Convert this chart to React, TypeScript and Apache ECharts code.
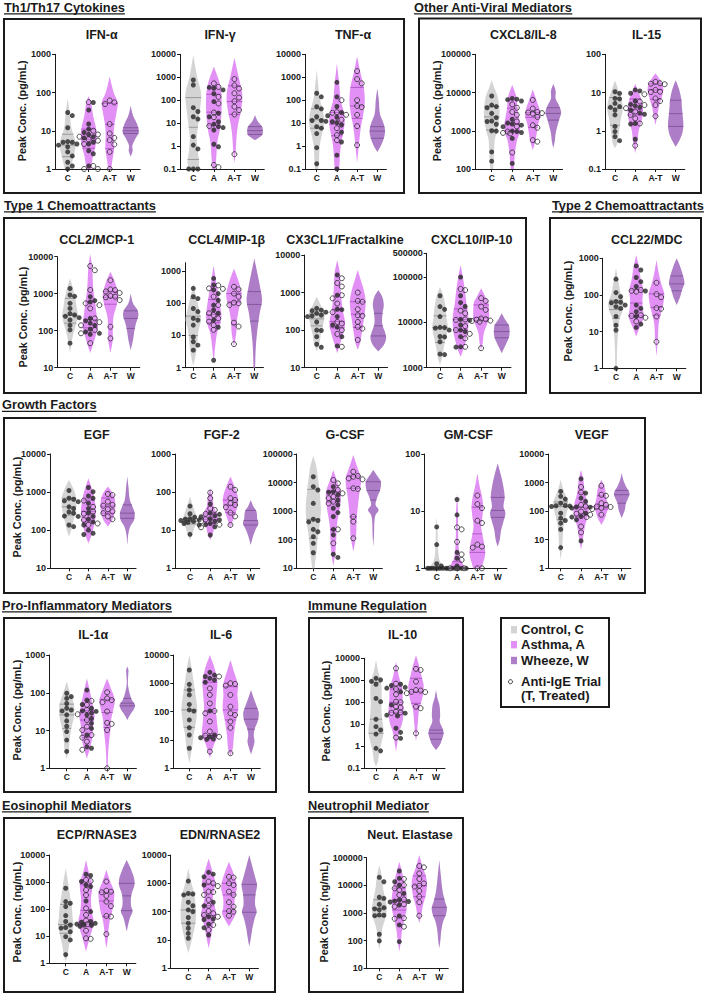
import React, { useEffect, useRef } from 'react';
import * as echarts from 'echarts';

const GROUPS = ['C', 'A', 'A-T', 'W'];

// ---------- DATA ----------
// FILLED: [C, A, A-T] filled dots; OPEN: [C, A, A-T] open circles
// VIOLIN: [C, A, A-T, W] profile nodes [value, relative half-width]
// QUART: [C, A, A-T, W] [q1, median, q3]
const IFNA_TICKS = [1, 10, 100, 1000];
const IFNA_FILLED = [[30, 25, 12, 5.2, 5, 5, 4.5, 4.2, 3.8, 2.8, 2.2, 1.5, 1.2, 1.0], [55, 35, 15, 11, 9, 8, 7, 6.5, 5, 4.5, 3, 2.5, 1.2], []];
const IFNA_OPEN = [[], [56, 10, 8, 7, 6, 5.5, 4.5, 1.2, 1.0, 1.0], [62, 55, 50, 15, 8.5, 6.5, 5.7, 4.4, 2.8, 1.0]];
const IFNA_VIOLIN = [
  [[70, 0], [30, 0.25], [12, 0.45], [6, 0.9], [4, 1], [2, 0.7], [1.2, 0.45], [1, 0.35]],
  [[80, 0], [55, 0.3], [25, 0.55], [12, 0.9], [7, 1], [4, 0.85], [2, 0.5], [1, 0.3]],
  [[260, 0], [100, 0.5], [55, 1], [30, 0.85], [15, 0.6], [8, 0.5], [3.5, 0.55], [1.5, 0.3], [1, 0.2]],
  [[45, 0], [25, 0.3], [14, 0.85], [9, 1], [6, 0.55], [4, 0.2], [3, 0.25], [2.1, 0]],
];
const IFNA_QUART = [[2.1, 4.2, 8.1], [3.5, 6, 11], [3.4, 14.7, 52], [8.5, 10, 12]];

const IFNG_TICKS = [0.1, 1, 10, 100, 1000, 10000];
const IFNG_FILLED = [[760, 460, 47, 32, 19, 15, 2.6, 1.1, 0.75, 0.1, 0.1, 0.1], [360, 330, 280, 190, 87, 27, 19, 11.5, 9, 7, 6.4, 5, 1.2, 0.93], []];
const IFNG_OPEN = [[], [540, 380, 140, 72, 29, 18, 7.5, 0.15, 0.12], [830, 440, 320, 200, 130, 90, 52, 37, 24, 0.44]];
const IFNG_VIOLIN = [
  [[9000, 0], [1000, 0.5], [200, 1], [50, 0.9], [10, 0.65], [2, 0.45], [0.5, 0.6], [0.2, 0.75], [0.1, 0.6]],
  [[2900, 0], [800, 0.6], [300, 0.9], [100, 1], [20, 0.95], [5, 0.75], [1.5, 0.45], [0.3, 0.3], [0.1, 0.2]],
  [[7000, 0], [1000, 0.55], [250, 0.95], [100, 1], [30, 0.8], [8, 0.45], [2, 0.25], [0.5, 0.15], [0.18, 0]],
  [[22, 0], [12, 0.35], [7, 0.9], [4.5, 1], [3, 0.9], [2.2, 0.4], [1.8, 0]],
];
const IFNG_QUART = [[0.26, 6.6, 130], [8, 30, 180], [24, 87, 420], [3.2, 4.7, 7]];

const TNFA_TICKS = [0.1, 1, 10, 100, 1000, 10000];
const TNFA_FILLED = [[200, 140, 52, 42, 19, 13, 13, 12, 7, 6, 3.5, 0.85, 0.17], [600, 140, 53, 29, 21, 18, 11.5, 10.5, 8.3, 4, 1.5, 0.4, 0.1], []];
const TNFA_OPEN = [[], [100, 30, 28, 23, 14, 6, 3, 1.8], [1850, 830, 540, 100, 56, 50, 23, 7.4, 1.1]];
const TNFA_VIOLIN = [
  [[2100, 0], [300, 0.25], [100, 0.45], [30, 0.85], [10, 1], [3.5, 0.7], [1, 0.4], [0.25, 0.3], [0.1, 0.2]],
  [[4000, 0], [500, 0.3], [100, 0.5], [30, 0.9], [10, 1], [3.5, 0.8], [1, 0.5], [0.1, 0.3]],
  [[8000, 0], [1500, 0.45], [400, 0.85], [100, 1], [30, 0.85], [7, 0.5], [1.3, 0.25], [0.18, 0]],
  [[330, 0], [100, 0.2], [25, 0.35], [10, 0.8], [5, 1], [2.5, 0.9], [1, 0.45], [0.55, 0]],
];
const TNFA_QUART = [[6, 14, 42], [2.8, 9, 29], [16, 56, 360], [2.2, 4.5, 7]];

const CXCL8_TICKS = [100, 1000, 10000, 100000];
const CXCL8_FILLED = [[8100, 4700, 4300, 4000, 2850, 2200, 1800, 1750, 1480, 1000, 980, 280, 160], [7000, 6700, 6500, 6000, 2000, 1600, 1500, 1400, 1280, 980, 950, 900, 630, 140], []];
const CXCL8_OPEN = [[], [4900, 4000, 3100, 2600, 1750, 1300, 950, 880, 850, 270], [6400, 3800, 3100, 3000, 2900, 2800, 2300, 1400, 1200, 570, 520]];
const CXCL8_VIOLIN = [
  [[21000, 0], [13000, 0.35], [8000, 0.75], [3500, 1], [1900, 0.95], [1000, 0.7], [580, 0.4], [250, 0.3], [100, 0.2]],
  [[16000, 0], [8000, 0.5], [3500, 0.7], [1500, 1], [900, 0.95], [550, 0.6], [250, 0.35], [100, 0.2]],
  [[12000, 0], [6500, 0.45], [3500, 0.9], [2500, 1], [1500, 0.7], [850, 0.5], [550, 0.35], [310, 0]],
  [[17000, 0], [11000, 0.3], [7000, 0.3], [4500, 0.75], [3000, 1], [1800, 0.7], [850, 0.3], [550, 0.2], [350, 0]],
];
const CXCL8_QUART = [[1050, 2300, 4300], [980, 1500, 3900], [1230, 2250, 3000], [1900, 2850, 4000]];

const IL15_TICKS = [0.1, 1, 10, 100];
const IL15_FILLED = [[10.5, 9.5, 7, 6.8, 5.2, 4.3, 4.1, 3.5, 2.6, 1.3, 0.95, 0.7, 0.55], [11.7, 11, 9.6, 6, 4.9, 4.5, 4.1, 3.5, 2.9, 2.7, 1.55, 1.5, 0.6], []];
const IL15_OPEN = [[], [9, 5.8, 4.7, 3.9, 3.2, 2.6, 2.1, 1.55, 0.41], [19, 17.5, 17, 16.5, 11.7, 10.5, 10.3, 7, 6, 4.7, 2.4]];
const IL15_VIOLIN = [
  [[21, 0], [12, 0.4], [6, 0.9], [3.5, 1], [2, 0.75], [0.85, 0.5], [0.47, 0.3], [0.35, 0]],
  [[17, 0], [10, 0.45], [6.3, 0.8], [3.5, 1], [1.9, 0.85], [1.0, 0.45], [0.55, 0.3], [0.26, 0]],
  [[32, 0], [20, 0.7], [14, 1], [9.5, 0.95], [6.3, 0.7], [4.3, 0.45], [2.9, 0.3], [1.4, 0]],
  [[21, 0], [12, 0.45], [6.3, 0.75], [4.3, 0.8], [2.6, 0.9], [1.4, 1], [0.85, 0.85], [0.57, 0.5], [0.38, 0]],
];
const IL15_QUART = [[1.4, 3.9, 7.4], [2.6, 3.5, 6.8], [6.6, 11.7, 17], [1.3, 2.8, 6.3]];

const CCL2_TICKS = [10, 100, 1000, 10000];
const CCL2_FILLED = [[1380, 920, 850, 550, 400, 290, 265, 245, 225, 195, 140, 105, 46], [830, 650, 600, 215, 185, 160, 140, 110, 93, 85, 80], []];
const CCL2_OPEN = [[], [5600, 4300, 1260, 550, 490, 400, 215, 170, 140, 105, 85, 46], [2300, 1300, 1250, 1150, 1050, 870, 830, 800, 670, 128, 62]];
const CCL2_VIOLIN = [
  [[2600, 0], [1500, 0.35], [800, 0.65], [450, 0.85], [250, 1], [130, 0.7], [70, 0.35], [25, 0]],
  [[12000, 0], [5000, 0.25], [1300, 0.4], [550, 0.65], [300, 0.8], [130, 1], [85, 0.8], [45, 0.4], [25, 0]],
  [[3900, 0], [2300, 0.5], [1250, 0.9], [830, 1], [490, 0.8], [240, 0.4], [105, 0.3], [56, 0.3], [25, 0]],
  [[1000, 0], [550, 0.3], [370, 0.85], [260, 1], [160, 0.7], [105, 0.5], [56, 0.3], [30, 0]],
];
const CCL2_QUART = [[160, 260, 750], [120, 200, 600], [520, 800, 1150], [115, 215, 345]];

const CCL4_TICKS = [1, 10, 100, 1000, 5000];
const CCL4_FILLED = [[290, 160, 140, 69, 55, 34, 30, 21, 9, 6.4, 5, 3.5], [590, 370, 260, 200, 125, 88, 62, 49, 30, 18, 1.7], []];
const CCL4_OPEN = [[], [360, 290, 280, 160, 88, 49, 43, 34, 27, 21, 15], [325, 270, 200, 160, 105, 100, 88, 25, 19, 5.4]];
const CCL4_VIOLIN = [
  [[400, 0], [130, 0.45], [50, 0.85], [30, 1], [15, 0.7], [5.6, 0.5], [2.8, 0.35], [1.1, 0]],
  [[1500, 0], [500, 0.3], [200, 0.6], [80, 0.85], [38, 1], [23, 0.85], [12, 0.45], [4.5, 0.2], [1.4, 0]],
  [[1200, 0], [520, 0.55], [260, 0.9], [160, 1], [78, 0.7], [30, 0.4], [12, 0.3], [4.5, 0]],
  [[2450, 0], [850, 0.4], [320, 0.75], [125, 1], [49, 0.7], [15, 0.4], [4.5, 0.2], [1, 0.1]],
];
const CCL4_QUART = [[10, 40, 140], [25, 45, 130], [22, 110, 200], [28, 92, 230]];

const CX3CL1_TICKS = [10, 100, 1000, 10000];
const CX3CL1_FILLED = [[380, 340, 330, 300, 280, 250, 240, 230, 165, 100, 98, 67, 42, 35], [2950, 850, 360, 350, 230, 137, 120, 67, 38], []];
const CX3CL1_OPEN = [[], [2400, 1800, 1450, 850, 700, 510, 300, 165, 150, 100, 79, 36], [1000, 600, 570, 360, 250, 240, 165, 123, 110, 55]];
const CX3CL1_VIOLIN = [
  [[780, 0], [470, 0.5], [310, 0.9], [230, 1], [135, 0.8], [80, 0.55], [45, 0.35], [27, 0]],
  [[7400, 0], [3200, 0.35], [1200, 0.45], [630, 0.55], [350, 0.7], [150, 1], [80, 0.75], [45, 0.4], [24, 0]],
  [[4000, 0], [2100, 0.4], [1200, 0.75], [630, 1], [350, 0.95], [150, 0.7], [80, 0.5], [45, 0.3], [30, 0]],
  [[1170, 0], [780, 0.5], [470, 0.7], [280, 0.55], [150, 0.5], [82, 0.9], [60, 1], [40, 0.7], [27, 0]],
];
const CX3CL1_QUART = [[130, 200, 270], [115, 170, 360], [118, 265, 570], [70, 130, 280]];

const CXCL10_TICKS = [1000, 10000, 100000, 500000];
const CXCL10_FILLED = [[39000, 22500, 19500, 13500, 7800, 7700, 7500, 6800, 4900, 4800, 3750, 2000, 1950], [101000, 39000, 27500, 22700, 11700, 11200, 8800, 6800, 6300, 4850, 2900, 2850], []];
const CXCL10_OPEN = [[], [55000, 52000, 18300, 16000, 11700, 11400, 8300, 6800, 5600, 4450, 2900], [34500, 30000, 22500, 19000, 12300, 11800, 11500, 11000, 10800, 10400, 2700]];
const CXCL10_VIOLIN = [
  [[62000, 0], [37000, 0.45], [22000, 0.7], [12000, 0.85], [8000, 1], [4900, 0.8], [2900, 0.5], [1750, 0.3], [1150, 0]],
  [[187000, 0], [100000, 0.3], [52000, 0.55], [26000, 0.75], [13500, 1], [6800, 0.95], [4100, 0.7], [2500, 0.35], [1750, 0]],
  [[57000, 0], [37000, 0.55], [29000, 0.9], [19000, 1], [12300, 1], [9600, 0.8], [5800, 0.35], [3500, 0.2], [2450, 0]],
  [[16000, 0], [11500, 0.45], [8800, 0.9], [6800, 1], [4900, 0.95], [3450, 0.6], [2700, 0.3], [2080, 0]],
];
const CXCL10_QUART = [[3600, 7700, 14000], [6800, 11700, 20000], [11000, 12800, 24500], [4600, 6300, 8800]];

const CCL22_TICKS = [1, 10, 100, 1000];
const CCL22_FILLED = [[270, 116, 90, 66, 63, 61, 53, 48, 43, 26, 15, 11, 1], [620, 480, 300, 230, 170, 128, 53, 43, 35, 26, 16, 13], []];
const CCL22_OPEN = [[], [137, 130, 123, 28, 27, 24, 19], [215, 105, 87, 44, 42, 26, 5.3]];
const CCL22_VIOLIN = [
  [[530, 0], [250, 0.3], [110, 0.6], [60, 1], [39, 0.9], [21, 0.45], [11, 0.3], [6, 0.2], [2.5, 0.12], [1, 0.1]],
  [[1230, 0], [590, 0.35], [260, 0.6], [140, 0.9], [73, 0.8], [43, 0.85], [26, 1], [17, 0.7], [11, 0.3], [7.3, 0]],
  [[900, 0], [390, 0.3], [210, 0.6], [110, 1], [60, 0.9], [32, 0.6], [17, 0.3], [7.3, 0.2], [3.9, 0.1], [2.1, 0]],
  [[1000, 0], [720, 0.3], [480, 0.6], [320, 0.85], [210, 1], [137, 0.7], [90, 0.45], [53, 0]],
];
const CCL22_QUART = [[23, 40, 72], [27, 60, 137], [28, 46, 107], [130, 200, 330]];

const EGF_TICKS = [10, 100, 1000, 10000];
const EGF_FILLED = [[1100, 690, 650, 590, 560, 410, 370, 300, 280, 235, 230, 137, 124], [1320, 1020, 790, 690, 510, 370, 280, 230, 195, 165, 137, 100, 83, 77], []];
const EGF_OPEN = [[], [600, 410, 310, 270, 185, 150, 138], [890, 840, 560, 460, 440, 355, 310, 280, 230, 195]];
const EGF_VIOLIN = [
  [[2100, 0], [1400, 0.45], [830, 0.9], [510, 1], [280, 0.85], [150, 0.5], [100, 0.3], [68, 0]],
  [[2300, 0], [1250, 0.45], [690, 0.8], [340, 1], [185, 0.9], [100, 0.6], [68, 0.35], [45, 0]],
  [[1400, 0], [930, 0.65], [620, 0.95], [410, 1], [280, 0.9], [185, 0.6], [124, 0]],
  [[2600, 0], [1400, 0.15], [620, 0.35], [420, 0.7], [280, 1], [185, 0.9], [124, 0.4], [83, 0.15], [41, 0]],
];
const EGF_QUART = [[250, 410, 690], [165, 310, 620], [280, 430, 700], [205, 280, 460]];

const FGF2_TICKS = [1, 10, 100, 1000];
const FGF2_FILLED = [[43, 27, 22, 20, 19.5, 18.7, 18, 17, 16, 15, 13.7, 7.8], [49, 28, 26, 24, 22.5, 20, 18.5, 17, 15, 14, 12.3, 7.5], []];
const FGF2_OPEN = [[], [97, 69, 37, 34, 27, 19.3, 17, 14, 11.9], [138, 114, 69, 62, 51, 46, 40, 29, 23, 13.7]];
const FGF2_VIOLIN = [
  [[76, 0], [42, 0.4], [23, 0.85], [17, 1], [12, 0.6], [8.3, 0.35], [5.5, 0]],
  [[125, 0], [76, 0.3], [42, 0.45], [28, 0.85], [18.5, 1], [12.3, 0.55], [8.3, 0.35], [5.5, 0]],
  [[255, 0], [155, 0.45], [93, 0.85], [62, 1], [42, 0.9], [28, 0.65], [18.5, 0.35], [11, 0]],
  [[62, 0], [42, 0.35], [31, 0.75], [20, 0.85], [15, 1], [10, 0.6], [6.8, 0.3], [4.1, 0]],
];
const FGF2_QUART = [[14.5, 17, 20], [15, 19.3, 28], [29, 46, 62], [13.7, 18, 33]];

const GCSF_TICKS = [10, 100, 1000, 10000, 100000];
const GCSF_FILLED = [[16000, 7200, 5500, 1870, 520, 470, 420, 230, 190, 128, 75, 35], [7200, 4800, 4600, 3700, 2450, 1650, 1260, 890, 650, 230, 148, 31, 24], []];
const GCSF_OPEN = [[], [12300, 9400, 5500, 4200, 3200, 2850, 2150, 1870, 230, 75], [24000, 17000, 16000, 14000, 13000, 6300, 6000, 640, 430, 112]];
const GCSF_VIOLIN = [
  [[85000, 0], [36000, 0.4], [12000, 0.65], [4200, 0.85], [1100, 1], [370, 0.85], [130, 0.6], [44, 0.45], [17, 0.25], [10, 0.15]],
  [[27500, 0], [12000, 0.45], [5500, 0.9], [3200, 1], [1100, 0.8], [370, 0.5], [130, 0.4], [44, 0.3], [11.5, 0]],
  [[93000, 0], [36000, 0.5], [16000, 0.95], [9400, 1], [4200, 0.8], [1450, 0.6], [490, 0.45], [130, 0.35], [38, 0]],
  [[27500, 0], [16000, 0.6], [10700, 1], [5500, 0.9], [3200, 0.55], [1650, 0.3], [1100, 0.7], [740, 0.3], [430, 0.15], [165, 0.1], [57, 0]],
];
const GCSF_QUART = [[112, 520, 5800], [230, 2100, 4800], [640, 6300, 17000], [2450, 5300, 10700]];

const GMCSF_TICKS = [1, 10, 100];
const GMCSF_FILLED = [[5.3, 2.6, 1.2, 1.1, 1, 1, 1, 1, 1, 1, 1, 1], [16, 8.6, 1.9, 1.5, 1.1, 1, 1, 1, 1, 1, 1], []];
const GMCSF_OPEN = [[], [5.2, 4.8, 2.9, 1.75, 1.4, 1, 1, 1], [18.8, 13.3, 11.3, 6.8, 6.2, 2.6, 2.4, 2.3, 1, 1]];
const GMCSF_VIOLIN = [
  [[8, 0], [5, 0.1], [2.5, 0.15], [1.5, 0.3], [1.2, 0.6], [1, 1]],
  [[21, 0], [10, 0.12], [4, 0.15], [2, 0.25], [1.5, 0.4], [1.2, 0.75], [1, 1]],
  [[46, 0], [27, 0.3], [18, 0.6], [12, 0.75], [8, 0.65], [5.4, 0.5], [3.6, 0.7], [2.4, 0.95], [1.7, 1], [1.2, 0.7], [1, 0.55]],
  [[69, 0], [46, 0.35], [31, 0.65], [18, 0.9], [12, 0.75], [9.2, 1], [7, 0.8], [4.7, 0.45], [3.1, 0.25], [2.4, 0]],
];
const GMCSF_QUART = [[1, 1, 1], [1, 1, 1.3], [1.9, 4, 11.7], [7.8, 10.3, 17.4]];

const VEGF_TICKS = [1, 10, 100, 1000, 10000];
const VEGF_FILLED = [[490, 330, 265, 190, 158, 155, 150, 145, 85, 57, 47, 38, 23, 5.3], [1350, 430, 285, 220, 140, 138, 128, 85, 65, 62, 50, 9.1], []];
const VEGF_OPEN = [[], [700, 450, 166, 145, 97, 81, 75, 62, 29, 18], [780, 375, 345, 190, 166, 145, 140, 128, 118, 75]];
const VEGF_VIOLIN = [
  [[1260, 0], [560, 0.35], [250, 0.85], [145, 1], [85, 0.75], [38, 0.45], [17, 0.3], [5.8, 0.2], [2, 0]],
  [[2800, 0], [1260, 0.3], [430, 0.5], [190, 0.85], [110, 1], [65, 0.85], [29, 0.5], [13, 0.3], [4.4, 0]],
  [[1260, 0], [640, 0.45], [330, 0.6], [190, 0.8], [145, 1], [98, 0.75], [56, 0.45], [33, 0]],
  [[2150, 0], [1260, 0.2], [740, 0.55], [430, 1], [290, 0.85], [190, 0.55], [110, 0.4], [57, 0]],
];
const VEGF_QUART = [[50, 145, 210], [69, 138, 430], [118, 150, 345], [190, 375, 530]];

const IL1A_TICKS = [1, 10, 100, 1000];
const IL1A_FILLED = [[97, 79, 71, 52, 39, 35, 33, 26, 18, 13, 9.4, 5.6, 2.8], [118, 64, 49, 39, 33, 32, 29, 26, 21, 15.5, 11.4, 7.6, 3.7, 3.4], []];
const IL1A_OPEN = [[], [61, 48, 35, 27, 19, 12.7, 10.3, 7.6, 6.5, 5.1, 3.1], [103, 71, 64, 56, 32, 16, 15, 10.3, 1.0]];
const IL1A_VIOLIN = [
  [[200, 0], [105, 0.4], [58, 0.85], [39, 1], [21, 0.9], [11.5, 0.6], [6.2, 0.4], [3.4, 0.3], [1.8, 0]],
  [[240, 0], [107, 0.4], [48, 0.75], [26, 1], [14, 0.8], [7.6, 0.75], [4.1, 0.5], [1.8, 0]],
  [[240, 0], [130, 0.5], [79, 0.9], [58, 1], [35, 0.8], [21, 0.55], [11.4, 0.45], [6.2, 0.3], [2.8, 0.15], [1, 0.08]],
  [[500, 0], [400, 0.15], [300, 0.12], [170, 0.08], [107, 0.25], [64, 0.6], [48, 1], [35, 0.8], [26, 0.35], [19, 0]],
];
const IL1A_QUART = [[11.4, 26, 50], [6.5, 19, 34], [12, 30, 67], [45, 53, 71]];

const IL6_TICKS = [1, 10, 100, 1000, 10000];
const IL6_FILLED = [[2950, 920, 580, 390, 180, 115, 105, 51, 27, 15, 5.1], [2450, 1960, 1740, 1500, 1300, 1090, 106, 15, 13, 12, 10.8, 10.5], []];
const IL6_OPEN = [[], [1740, 660, 390, 195, 106, 87, 45, 20, 14.2, 13, 3.9], [1000, 950, 830, 390, 150, 87, 76, 45, 27, 3.4]];
const IL6_VIOLIN = [
  [[10000, 0], [3400, 0.3], [1150, 0.55], [390, 0.8], [130, 1], [45, 0.85], [15, 0.55], [5, 0.35], [1.5, 0]],
  [[10000, 0], [3400, 0.6], [1150, 0.95], [390, 0.85], [130, 0.75], [45, 0.9], [15, 1], [6.6, 0.5], [2.3, 0]],
  [[6600, 0], [2600, 0.45], [870, 0.95], [390, 0.9], [130, 1], [45, 0.7], [15, 0.45], [5, 0.3], [2.6, 0]],
  [[580, 0], [300, 0.35], [150, 0.75], [87, 1], [45, 0.85], [26, 0.5], [15, 0.35], [8.7, 0.45], [5.1, 0.25], [3.1, 0]],
];
const IL6_QUART = [[28, 115, 580], [14.2, 106, 1090], [51, 115, 760], [24, 54, 130]];

const IL10_TICKS = [0.1, 1, 10, 100, 1000, 10000];
const IL10_FILLED = [[1230, 1050, 900, 660, 150, 107, 17, 7.8, 5.5, 3.6, 0.81, 0.62], [660, 580, 480, 440, 300, 76, 32, 26, 24, 6.6, 4.3, 2.3], []];
const IL10_OPEN = [[], [3500, 700, 400, 230, 107, 100, 63, 57, 38, 35, 33, 2.5], [3300, 2950, 870, 360, 340, 300, 290, 260, 63, 54, 3.9]];
const IL10_VIOLIN = [
  [[8300, 0], [2500, 0.3], [870, 0.65], [300, 0.75], [76, 0.7], [19, 0.8], [4.7, 1], [1.6, 0.75], [0.57, 0.45], [0.2, 0.25], [0.12, 0]],
  [[7000, 0], [1700, 0.35], [440, 0.8], [107, 0.9], [38, 1], [13, 0.85], [4.7, 0.45], [1.6, 0.2], [0.57, 0]],
  [[14000, 0], [3500, 0.5], [1230, 0.8], [620, 1], [260, 0.95], [107, 0.7], [45, 0.4], [13, 0.25], [4.7, 0.15], [1.6, 0]],
  [[360, 0], [150, 0.2], [76, 0.45], [26, 0.55], [13, 0.5], [6.6, 0.85], [3.9, 1], [1.9, 0.75], [1.15, 0.5], [0.68, 0]],
];
const IL10_QUART = [[3.9, 17, 810], [35, 100, 400], [90, 300, 1230], [2.1, 3.9, 5.5]];

const ECP_TICKS = [1, 10, 100, 1000, 10000];
const ECP_FILLED = [[590, 190, 165, 124, 58, 35, 26, 21, 20, 14.7, 9.6, 7.3, 2.1], [1950, 1750, 1050, 780, 680, 200, 81, 35, 33, 30, 28, 26, 25, 23], []];
const ECP_OPEN = [[], [1200, 1100, 510, 330, 107, 61, 38, 28, 16, 8.4, 8], [1050, 480, 440, 420, 310, 190, 130, 56, 53, 12]];
const ECP_VIOLIN = [
  [[3200, 0], [1050, 0.3], [330, 0.55], [107, 0.8], [46, 0.9], [26, 1], [11, 0.75], [4.7, 0.45], [2, 0.25], [1.15, 0]],
  [[6600, 0], [2400, 0.35], [1050, 0.75], [590, 0.8], [250, 0.65], [81, 0.75], [35, 1], [20, 0.85], [8.4, 0.45], [2.7, 0]],
  [[2800, 0], [1050, 0.5], [440, 1], [190, 0.95], [81, 0.75], [46, 0.5], [20, 0.3], [8.4, 0.2], [3.6, 0]],
  [[6600, 0], [3200, 0.5], [1400, 0.95], [780, 1], [330, 0.6], [140, 0.55], [81, 0.75], [46, 0.4], [15, 0]],
];
const ECP_QUART = [[12.8, 27, 150], [28, 90, 800], [53, 200, 420], [88, 310, 900]];

const EDN_TICKS = [1, 10, 100, 1000, 10000];
const EDN_FILLED = [[1200, 440, 420, 390, 215, 162, 115, 100, 62, 39, 26, 17, 11.5], [2450, 2100, 1700, 870, 215, 160, 66, 55, 52, 36, 27, 15], []];
const EDN_OPEN = [[], [1150, 1000, 800, 510, 490, 390, 260, 162, 105, 87, 76, 66, 34, 22.5], [1700, 1600, 1000, 870, 510, 390, 215, 150, 105, 100, 72]];
const EDN_VIOLIN = [
  [[3400, 0], [1150, 0.35], [510, 0.7], [225, 0.9], [100, 1], [45, 0.95], [19.5, 0.7], [8.7, 0.4], [3.4, 0]],
  [[7600, 0], [2600, 0.5], [1150, 0.85], [660, 0.75], [300, 0.55], [130, 0.85], [76, 1], [34, 0.6], [15, 0.35], [5.1, 0]],
  [[5800, 0], [2600, 0.5], [1150, 0.9], [660, 1], [300, 0.75], [130, 0.75], [87, 0.9], [58, 0.6], [30, 0]],
  [[10000, 0], [3400, 0.45], [1500, 0.8], [870, 1], [390, 0.8], [175, 0.75], [100, 0.95], [58, 0.7], [26, 0.4], [11.5, 0.2], [5.8, 0]],
];
const EDN_QUART = [[39, 115, 390], [70, 162, 920], [105, 390, 1000], [95, 390, 920]];

const NE_TICKS = [10, 100, 1000, 10000, 100000];
const NE_FILLED = [[19500, 13500, 3700, 3400, 2050, 1550, 1400, 1300, 850, 830, 800, 170, 98], [33000, 18000, 13500, 10200, 5100, 2950, 2700, 2600, 2500, 1950, 780, 370, 92], []];
const NE_OPEN = [[], [17000, 10200, 7800, 6800, 4500, 3100, 2050, 1700, 650, 620, 320], [50000, 45000, 27000, 17000, 11700, 9700, 9000, 6300, 3900, 2450, 800]];
const NE_VIOLIN = [
  [[54000, 0], [23000, 0.3], [7800, 0.5], [2600, 0.85], [1500, 1], [650, 0.8], [280, 0.4], [120, 0.25], [46, 0]],
  [[72000, 0], [31000, 0.35], [13500, 0.65], [5900, 0.9], [2600, 1], [1120, 0.9], [490, 0.6], [215, 0.35], [92, 0.2], [40, 0]],
  [[125000, 0], [41000, 0.5], [20000, 0.9], [10200, 1], [4500, 0.85], [1950, 0.5], [850, 0.25], [430, 0]],
  [[83000, 0], [23000, 0.2], [5900, 0.45], [2600, 0.75], [1500, 1], [850, 0.85], [490, 0.5], [215, 0.25], [105, 0.15], [53, 0]],
];
const NE_QUART = [[740, 1500, 3000], [1280, 2950, 7800], [3900, 9700, 22000], [800, 1600, 3200]];

const PANELS = [
  { title: 'IFN-α', ticks: IFNA_TICKS, filled: IFNA_FILLED, open: IFNA_OPEN, violin: IFNA_VIOLIN, quart: IFNA_QUART },
  { title: 'IFN-γ', ticks: IFNG_TICKS, filled: IFNG_FILLED, open: IFNG_OPEN, violin: IFNG_VIOLIN, quart: IFNG_QUART },
  { title: 'TNF-α', ticks: TNFA_TICKS, filled: TNFA_FILLED, open: TNFA_OPEN, violin: TNFA_VIOLIN, quart: TNFA_QUART },
  { title: 'CXCL8/IL-8', ticks: CXCL8_TICKS, filled: CXCL8_FILLED, open: CXCL8_OPEN, violin: CXCL8_VIOLIN, quart: CXCL8_QUART },
  { title: 'IL-15', ticks: IL15_TICKS, filled: IL15_FILLED, open: IL15_OPEN, violin: IL15_VIOLIN, quart: IL15_QUART },
  { title: 'CCL2/MCP-1', ticks: CCL2_TICKS, filled: CCL2_FILLED, open: CCL2_OPEN, violin: CCL2_VIOLIN, quart: CCL2_QUART },
  { title: 'CCL4/MIP-1β', ticks: CCL4_TICKS, filled: CCL4_FILLED, open: CCL4_OPEN, violin: CCL4_VIOLIN, quart: CCL4_QUART },
  { title: 'CX3CL1/Fractalkine', ticks: CX3CL1_TICKS, filled: CX3CL1_FILLED, open: CX3CL1_OPEN, violin: CX3CL1_VIOLIN, quart: CX3CL1_QUART },
  { title: 'CXCL10/IP-10', ticks: CXCL10_TICKS, filled: CXCL10_FILLED, open: CXCL10_OPEN, violin: CXCL10_VIOLIN, quart: CXCL10_QUART },
  { title: 'CCL22/MDC', ticks: CCL22_TICKS, filled: CCL22_FILLED, open: CCL22_OPEN, violin: CCL22_VIOLIN, quart: CCL22_QUART },
  { title: 'EGF', ticks: EGF_TICKS, filled: EGF_FILLED, open: EGF_OPEN, violin: EGF_VIOLIN, quart: EGF_QUART },
  { title: 'FGF-2', ticks: FGF2_TICKS, filled: FGF2_FILLED, open: FGF2_OPEN, violin: FGF2_VIOLIN, quart: FGF2_QUART },
  { title: 'G-CSF', ticks: GCSF_TICKS, filled: GCSF_FILLED, open: GCSF_OPEN, violin: GCSF_VIOLIN, quart: GCSF_QUART },
  { title: 'GM-CSF', ticks: GMCSF_TICKS, filled: GMCSF_FILLED, open: GMCSF_OPEN, violin: GMCSF_VIOLIN, quart: GMCSF_QUART },
  { title: 'VEGF', ticks: VEGF_TICKS, filled: VEGF_FILLED, open: VEGF_OPEN, violin: VEGF_VIOLIN, quart: VEGF_QUART },
  { title: 'IL-1α', ticks: IL1A_TICKS, filled: IL1A_FILLED, open: IL1A_OPEN, violin: IL1A_VIOLIN, quart: IL1A_QUART },
  { title: 'IL-6', ticks: IL6_TICKS, filled: IL6_FILLED, open: IL6_OPEN, violin: IL6_VIOLIN, quart: IL6_QUART },
  { title: 'IL-10', ticks: IL10_TICKS, filled: IL10_FILLED, open: IL10_OPEN, violin: IL10_VIOLIN, quart: IL10_QUART },
  { title: 'ECP/RNASE3', ticks: ECP_TICKS, filled: ECP_FILLED, open: ECP_OPEN, violin: ECP_VIOLIN, quart: ECP_QUART },
  { title: 'EDN/RNASE2', ticks: EDN_TICKS, filled: EDN_FILLED, open: EDN_OPEN, violin: EDN_VIOLIN, quart: EDN_QUART },
  { title: 'Neut. Elastase', ticks: NE_TICKS, filled: NE_FILLED, open: NE_OPEN, violin: NE_VIOLIN, quart: NE_QUART },
];

const LEGEND_LABELS = ['Control, C', 'Asthma, A', 'Wheeze, W'];
const LEGEND_TRIAL = ['Anti-IgE Trial', '(T, Treated)'];

// ---------- LAYOUT (pixel positions) ----------
const LAYOUT: any[] = [
  { ax: 55, c0: 67.7, c3: 130.7, top: 54.3, bot: 169, tx: 101.7, ty: 35 },
  { ax: 180, c0: 193.3, c3: 255, top: 54.3, bot: 169, tx: 220, ty: 35 },
  { ax: 305, c0: 316.7, c3: 377.3, top: 54.3, bot: 169, tx: 353, ty: 35 },
  { ax: 475, c0: 491.7, c3: 553.3, top: 54.3, bot: 169, tx: 523.3, ty: 35 },
  { ax: 605, c0: 615, c3: 675.7, top: 54.3, bot: 169, tx: 646.7, ty: 35 },
  { ax: 57.3, c0: 70, c3: 130.7, top: 256.7, bot: 367.7, tx: 96.7, ty: 240 },
  { ax: 185, c0: 193.3, c3: 254.3, top: 262.7, bot: 367.7, tx: 226.7, ty: 240, topLog: 3.26 },
  { ax: 304.3, c0: 316.7, c3: 378.3, top: 255, bot: 367.7, tx: 345, ty: 240 },
  { ax: 426.7, c0: 440, c3: 501.7, top: 253.3, bot: 367.7, tx: 471.7, ty: 240, topLog: 5.53 },
  { ax: 602.7, c0: 616, c3: 676.7, top: 258.3, bot: 368.3, tx: 646.7, ty: 240 },
  { ax: 50, c0: 69, c3: 127.3, top: 454, bot: 568.3, tx: 96.7, ty: 435 },
  { ax: 175, c0: 190, c3: 250.7, top: 454, bot: 568.3, tx: 221.7, ty: 435 },
  { ax: 296.7, c0: 313.3, c3: 373.3, top: 454, bot: 568.3, tx: 345, ty: 435 },
  { ax: 424.3, c0: 436.7, c3: 497.7, top: 454, bot: 568.3, tx: 468.3, ty: 435 },
  { ax: 548.3, c0: 560.7, c3: 621.7, top: 454, bot: 568.3, tx: 591.7, ty: 435 },
  { ax: 49.3, c0: 66.7, c3: 127.3, top: 655, bot: 768.3, tx: 93.3, ty: 635 },
  { ax: 173.3, c0: 189.3, c3: 251, top: 655, bot: 768.3, tx: 221, ty: 635 },
  { ax: 364, c0: 376, c3: 436, top: 658.3, bot: 768.3, tx: 402.7, ty: 635 },
  { ax: 49.3, c0: 65.7, c3: 126.7, top: 855, bot: 963.3, tx: 96.7, ty: 835 },
  { ax: 170.7, c0: 188.3, c3: 249.3, top: 855, bot: 968.3, tx: 220, ty: 835 },
  { ax: 366.7, c0: 379.3, c3: 439.3, top: 857.7, bot: 968.3, tx: 410, ty: 835 },
];

const SECTIONS: any[] = [
  { title: 'Th1/Th17 Cytokines', tx: 4, ty: 7, box: [4, 19, 400, 174], yl: [21.7, 110.8, 'Peak Conc. (pg/mL)'] },
  { title: 'Other Anti-Viral Mediators', tx: 414, ty: 7, box: [419, 18.5, 282, 174.5], yl: [436.7, 110.8, 'Peak Conc. (pg/mL)'] },
  { title: 'Type 1 Chemoattractants', tx: 4, ty: 205, box: [4, 218, 522, 175], yl: [22.5, 317, 'Peak Conc. (pg/mL)'] },
  { title: 'Type 2 Chemoattractants', tx: 552, ty: 205, box: [550, 218, 151, 175], yl: [568.3, 311, 'Peak Conc. (pg/mL)'] },
  { title: 'Growth Factors', tx: 2, ty: 404.5, box: [4, 418, 641, 175], yl: [16.7, 507, 'Peak Conc. (pg/mL)'] },
  { title: 'Pro-Inflammatory Mediators', tx: 2, ty: 605, box: [4, 618, 272, 174], yl: [16.7, 710, 'Peak Conc. (pg/mL)'] },
  { title: 'Immune Regulation', tx: 308, ty: 605, box: [309, 618, 154, 174], yl: [326, 711, 'Peak Conc. (pg/mL)'] },
  { title: 'Eosinophil Mediators', tx: 2, ty: 805, box: [4, 818, 271, 174], yl: [16.7, 912, 'Peak Conc. (ng/mL)'] },
  { title: 'Neutrophil Mediator', tx: 308, ty: 805, box: [309, 818, 154, 174], yl: [324.3, 912, 'Peak Conc. (ng/mL)'] },
];

const FONT = '"Liberation Sans", Arial, Helvetica, sans-serif';
const INK = '#1a1a1a';
const FILLS = ['#d4d4d4', '#e290f5', '#e290f5', '#ad7ec7'];
const QLINE = ['#8a8a8a', '#a64cbd', '#a64cbd', '#7a4e93'];
const HALF = 0.38;
const DOT = 5;
const STEP = 4.6;
const MAXOFF = 10.5;
const SEC_FS = 12.8;

function makeProfile(prof: number[][]) {
  const nodes = prof.map(([v, w]) => [Math.log10(v), w]).sort((a, b) => a[0] - b[0]);
  const n = nodes.length;
  const xs = nodes.map((d) => d[0]);
  const ys = nodes.map((d) => d[1]);
  const m = ys.map((_, i) => {
    if (i === 0) return (ys[1] - ys[0]) / (xs[1] - xs[0]);
    if (i === n - 1) return (ys[n - 1] - ys[n - 2]) / (xs[n - 1] - xs[n - 2]);
    return (ys[i + 1] - ys[i - 1]) / (xs[i + 1] - xs[i - 1]);
  });
  const f = (x: number) => {
    if (x < xs[0] - 1e-9 || x > xs[n - 1] + 1e-9) return 0;
    if (x <= xs[0]) return ys[0];
    if (x >= xs[n - 1]) return ys[n - 1];
    let i = 0;
    while (x > xs[i + 1]) i++;
    const h = xs[i + 1] - xs[i];
    const t = (x - xs[i]) / h;
    const t2 = t * t, t3 = t2 * t;
    const y = (2 * t3 - 3 * t2 + 1) * ys[i] + (t3 - 2 * t2 + t) * h * m[i] + (-2 * t3 + 3 * t2) * ys[i + 1] + (t3 - t2) * h * m[i + 1];
    return Math.max(0, Math.min(1.08, y));
  };
  return { lo: xs[0], hi: xs[n - 1], f };
}

function measure(text: string, font: string) {
  const c = document.createElement('canvas').getContext('2d');
  if (!c) return text.length * 7;
  c.font = font;
  return c.measureText(text).width;
}

function swarm(values: { v: number; open: boolean }[], pxPerLog: number) {
  const items = values.slice().sort((a, b) => b.v - a.v);
  const placed: { off: number; ly: number; open: boolean }[] = [];
  items.forEach((it) => {
    const ly = Math.log10(it.v);
    const minDist = (o: number) => {
      let d = Infinity;
      placed.forEach((q) => {
        const dx = q.off - o;
        const dy = (q.ly - ly) * pxPerLog;
        d = Math.min(d, Math.sqrt(dx * dx + dy * dy));
      });
      return d;
    };
    let chosen: number | null = null;
    for (let k = 0; k < 12; k++) {
      const kk = k === 0 ? 0 : (k % 2 === 1 ? (k + 1) / 2 : -k / 2);
      const o = kk * STEP;
      if (Math.abs(o) > MAXOFF) break;
      if (minDist(o) >= STEP - 0.01) { chosen = o; break; }
    }
    if (chosen === null) {
      let best = 0, bestD = -1;
      for (let o = -MAXOFF; o <= MAXOFF + 1e-6; o += 0.5) {
        const d = minDist(o) - Math.abs(o) * 0.01;
        if (d > bestD) { bestD = d; best = o; }
      }
      chosen = best;
    }
    placed.push({ off: chosen, ly, open: it.open });
  });
  return placed;
}

function buildOption() {
  const grid: any[] = [], xAxis: any[] = [], yAxis: any[] = [], series: any[] = [], graphic: any[] = [];
  PANELS.forEach((p, i) => {
    const L = LAYOUT[i];
    const sp = (L.c3 - L.c0) / 3;
    const xmin = -(L.c0 - L.ax) / sp;
    const xmax = 3.45;
    const tickPos = p.ticks.map((t, k) => (k === p.ticks.length - 1 && L.topLog != null ? L.topLog : Math.log10(t)));
    const lo = tickPos[0];
    const hi = tickPos[tickPos.length - 1];
    const pxPerLog = (L.bot - L.top) / (hi - lo);
    grid.push({ left: L.ax, top: L.top, width: (xmax - xmin) * sp, height: L.bot - L.top });
    xAxis.push({
      gridIndex: i, type: 'value', min: xmin, max: xmax,
      axisLine: { show: true, onZero: false, lineStyle: { color: INK, width: 1 } },
      axisTick: { show: true, customValues: [0, 1, 2, 3], length: 3, lineStyle: { color: INK, width: 1 } },
      axisLabel: {
        show: true, customValues: [0, 1, 2, 3], formatter: (v: number) => GROUPS[Math.round(v)] || '',
        fontSize: 8.5, fontWeight: 'bold', fontFamily: FONT, color: INK, margin: 4,
      },
      splitLine: { show: false },
    });
    yAxis.push({
      gridIndex: i, type: 'value', min: lo, max: hi,
      axisLine: { show: true, onZero: false, lineStyle: { color: INK, width: 1 } },
      axisTick: { show: true, customValues: tickPos, length: 3, lineStyle: { color: INK, width: 1 } },
      axisLabel: {
        show: true, customValues: tickPos,
        formatter: (v: number) => {
          const k = tickPos.findIndex((t) => Math.abs(t - v) < 1e-6);
          return k >= 0 ? String(p.ticks[k]) : '';
        },
        fontSize: 9, fontWeight: 'bold', fontFamily: FONT, color: INK, margin: 4,
      },
      splitLine: { show: false },
    });

    const profiles = p.violin.map(makeProfile);
    series.push({
      type: 'custom', coordinateSystem: 'cartesian2d', xAxisIndex: i, yAxisIndex: i, silent: true, z: 1,
      data: [0, 1, 2, 3].map((g) => [g, lo]),
      renderItem: (_params: any, api: any) => {
        const g = api.value(0);
        const pr = profiles[g];
        const N = 70;
        const right: number[][] = [];
        const left: number[][] = [];
        for (let s = 0; s <= N; s++) {
          const y = pr.lo + ((pr.hi - pr.lo) * s) / N;
          const w = pr.f(y) * HALF;
          right.push(api.coord([g + w, y]));
          left.push(api.coord([g - w, y]));
        }
        const pts = right.concat(left.reverse());
        const children: any[] = [{ type: 'polygon', shape: { points: pts }, style: { fill: FILLS[g], stroke: null } }];
        p.quart[g].forEach((q: number) => {
          const y = Math.log10(q);
          const w = pr.f(y) * HALF;
          if (w <= 0.005) return;
          const a = api.coord([g - w, y]);
          const b = api.coord([g + w, y]);
          children.push({ type: 'line', shape: { x1: a[0], y1: a[1], x2: b[0], y2: b[1] }, style: { stroke: QLINE[g], lineWidth: 0.8 } });
        });
        return { type: 'group', children };
      },
    });

    const filledData: number[][] = [];
    const openData: number[][] = [];
    for (let g = 0; g < 3; g++) {
      const items = p.filled[g].map((v: number) => ({ v, open: false })).concat(p.open[g].map((v: number) => ({ v, open: true })));
      swarm(items, pxPerLog).forEach((q) => {
        (q.open ? openData : filledData).push([g + q.off / sp, q.ly]);
      });
    }
    series.push({
      type: 'scatter', xAxisIndex: i, yAxisIndex: i, silent: true, z: 3, symbol: 'circle', symbolSize: DOT,
      itemStyle: { color: '#262626' }, data: filledData, clip: false,
    });
    series.push({
      type: 'scatter', xAxisIndex: i, yAxisIndex: i, silent: true, z: 4, symbol: 'circle', symbolSize: DOT,
      itemStyle: { color: 'rgba(255,255,255,0.15)', borderColor: '#262626', borderWidth: 1 }, data: openData, clip: false,
    });

    graphic.push({
      type: 'text', x: L.tx, y: L.ty, silent: true,
      style: { text: p.title, fontSize: 12.5, fontWeight: 'bold', fontFamily: FONT, fill: INK, textAlign: 'center', textVerticalAlign: 'middle', align: 'center', verticalAlign: 'middle' },
    });
  });

  SECTIONS.forEach((s) => {
    const font = `bold ${SEC_FS}px ${FONT}`;
    const w = measure(s.title, font);
    graphic.push({
      type: 'text', x: s.tx, y: s.ty, silent: true,
      style: { text: s.title, fontSize: SEC_FS, fontWeight: 'bold', fontFamily: FONT, fill: INK, textAlign: 'left', textVerticalAlign: 'middle', align: 'left', verticalAlign: 'middle' },
    });
    graphic.push({ type: 'line', silent: true, shape: { x1: s.tx, y1: s.ty + 6.8, x2: s.tx + w, y2: s.ty + 6.8 }, style: { stroke: INK, lineWidth: 1.2 } });
    graphic.push({ type: 'rect', silent: true, shape: { x: s.box[0], y: s.box[1], width: s.box[2], height: s.box[3] }, style: { fill: null, stroke: INK, lineWidth: 2 } });
    graphic.push({
      type: 'text', x: s.yl[0], y: s.yl[1], rotation: Math.PI / 2, silent: true,
      style: { text: s.yl[2], fontSize: 10.8, fontWeight: 'bold', fontFamily: FONT, fill: INK, textAlign: 'center', textVerticalAlign: 'middle', align: 'center', verticalAlign: 'middle' },
    });
  });

  graphic.push({ type: 'rect', silent: true, shape: { x: 501, y: 618, width: 108, height: 89 }, style: { fill: null, stroke: INK, lineWidth: 2 } });
  const legY = [629.7, 644.7, 660.5];
  const legFill = [FILLS[0], FILLS[1], FILLS[3]];
  LEGEND_LABELS.forEach((t, k) => {
    graphic.push({ type: 'rect', silent: true, shape: { x: 511, y: legY[k] - 3.7, width: 6, height: 7.4 }, style: { fill: legFill[k] } });
    graphic.push({
      type: 'text', x: 521, y: legY[k], silent: true,
      style: { text: t, fontSize: 13, fontWeight: 'bold', fontFamily: FONT, fill: INK, textAlign: 'left', textVerticalAlign: 'middle', align: 'left', verticalAlign: 'middle' },
    });
  });
  graphic.push({ type: 'circle', silent: true, shape: { cx: 510.5, cy: 681.7, r: 2 }, style: { fill: '#fff', stroke: INK, lineWidth: 0.9 } });
  LEGEND_TRIAL.forEach((t, k) => {
    graphic.push({
      type: 'text', x: 521, y: 681.7 + k * 14, silent: true,
      style: { text: t, fontSize: 13, fontWeight: 'bold', fontFamily: FONT, fill: INK, textAlign: 'left', textVerticalAlign: 'middle', align: 'left', verticalAlign: 'middle' },
    });
  });

  return { animation: false, backgroundColor: '#ffffff', grid, xAxis, yAxis, series, graphic };
}

export default function App() {
  const ref = useRef<HTMLDivElement>(null);
  useEffect(() => {
    if (!ref.current) return;
    const chart = echarts.init(ref.current, null, { renderer: 'svg' });
    chart.setOption(buildOption() as any);
    return () => chart.dispose();
  }, []);
  return <div ref={ref} style={{ position: 'absolute', left: 0, top: 0, width: 709, height: 994, background: '#fff' }} />;
}
